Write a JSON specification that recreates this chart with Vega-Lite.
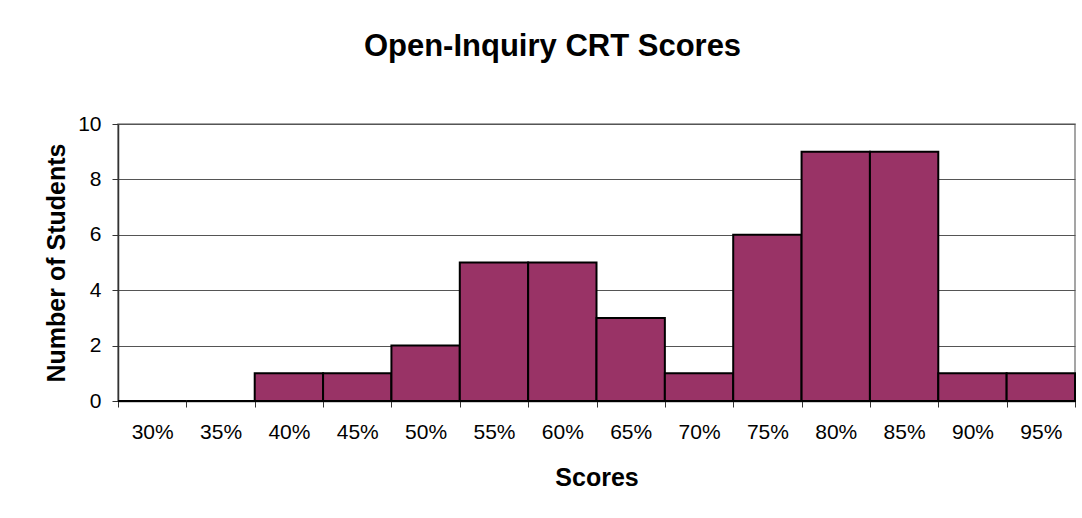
{
  "$schema": "https://vega.github.io/schema/vega-lite/v6.json",
  "autosize": "none",
  "width": 957,
  "height": 277,
  "padding": {"left": 118, "top": 124, "right": 7, "bottom": 117},
  "background": "white",
  "title": {
    "text": "Open-Inquiry CRT Scores",
    "font": "Liberation Sans",
    "fontSize": 31,
    "fontWeight": "bold",
    "color": "black",
    "anchor": "middle",
    "dx": -44,
    "offset": 50
  },
  "data": {
    "values": [
      {"score": "30%", "count": 0},
      {"score": "35%", "count": 0},
      {"score": "40%", "count": 1},
      {"score": "45%", "count": 1},
      {"score": "50%", "count": 2},
      {"score": "55%", "count": 5},
      {"score": "60%", "count": 5},
      {"score": "65%", "count": 3},
      {"score": "70%", "count": 1},
      {"score": "75%", "count": 6},
      {"score": "80%", "count": 9},
      {"score": "85%", "count": 9},
      {"score": "90%", "count": 1},
      {"score": "95%", "count": 1}
    ]
  },
  "mark": {"type": "bar", "color": "#993366", "stroke": "black", "strokeWidth": 2},
  "encoding": {
    "x": {
      "field": "score",
      "type": "ordinal",
      "sort": null,
      "scale": {"paddingInner": 0, "paddingOuter": 0},
      "axis": {
        "title": "Scores",
        "titleFont": "Liberation Sans",
        "titleFontSize": 25,
        "titleFontWeight": "bold",
        "titleColor": "black",
        "titlePadding": 23,
        "labelFont": "Liberation Sans",
        "labelFontSize": 21,
        "labelColor": "black",
        "labelAngle": 0,
        "labelPadding": 14,
        "tickBand": "extent",
        "tickSize": 6,
        "tickColor": "#333",
        "domainColor": "#333",
        "domainWidth": 1.5
      }
    },
    "y": {
      "field": "count",
      "type": "quantitative",
      "scale": {"domain": [0, 10]},
      "axis": {
        "title": "Number of Students",
        "titleFont": "Liberation Sans",
        "titleFontSize": 25,
        "titleFontWeight": "bold",
        "titleColor": "black",
        "titlePadding": 8,
        "values": [0, 2, 4, 6, 8, 10],
        "labelFont": "Liberation Sans",
        "labelFontSize": 21,
        "labelColor": "black",
        "labelPadding": 11,
        "tickSize": 6,
        "tickColor": "#333",
        "domainColor": "#333",
        "domainWidth": 1.5,
        "grid": true,
        "gridColor": "#555",
        "gridWidth": 1
      }
    }
  },
  "config": {
    "view": {"stroke": "#888", "strokeWidth": 1.5}
  }
}
